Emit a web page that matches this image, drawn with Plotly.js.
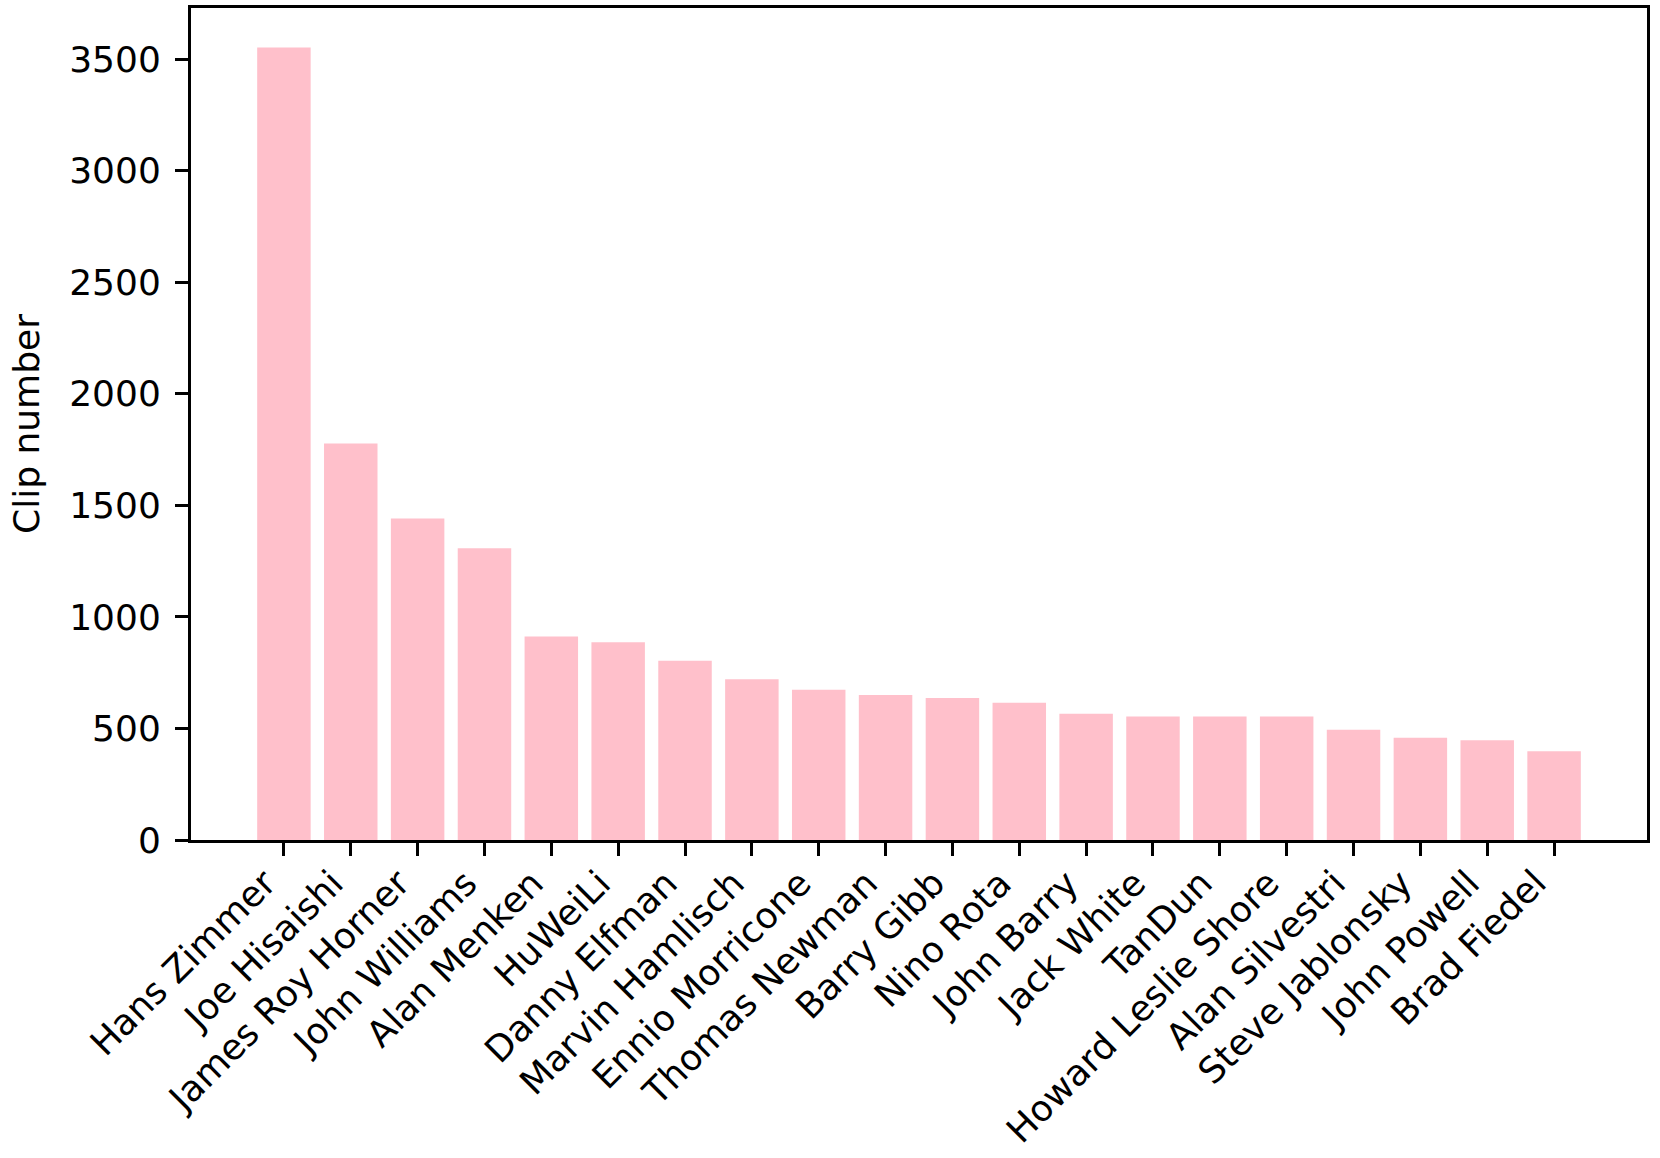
<!DOCTYPE html>
<html>
<head>
<meta charset="utf-8">
<script src="https://cdn.plot.ly/plotly-3.0.1.min.js"></script>
<style>
html,body{margin:0;padding:0;background:#fff;}
#chart{width:1660px;height:1158px;}
</style>
</head>
<body>
<div id="chart"></div>
<script>
const composers = ["Hans Zimmer","Joe Hisaishi","James Roy Horner","John Williams","Alan Menken","HuWeiLi","Danny Elfman","Marvin Hamlisch","Ennio Morricone","Thomas Newman","Barry Gibb","Nino Rota","John Barry","Jack White","TanDun","Howard Leslie Shore","Alan Silvestri","Steve Jablonsky","John Powell","Brad Fiedel"];
const clipCounts = [3552,1777,1441,1308,912,887,803,721,673,650,636,615,566,554,554,554,494,458,447,398];
const yTickValues = [0,500,1000,1500,2000,2500,3000,3500];
const yLabel = "Clip number";

const n = composers.length;
const yMax = Math.max(...clipCounts) * 1.05;
const xPad = (n - 1 + 0.8) * 0.05 + 0.4;

const trace = {
  type: 'bar',
  x: composers,
  y: clipCounts,
  marker: {color: '#FFC0CB', line: {width: 0}},
  hoverinfo: 'x+y'
};

const font = {family: 'DejaVu Sans, sans-serif', size: 36, color: '#000'};

// category labels, rotated 45° and right/top aligned under each tick (matplotlib style)
const labelAnnotations = composers.map(name => ({
  x: name, xref: 'x',
  y: 0, yref: 'paper',
  text: name,
  textangle: -45,
  xanchor: 'right',
  yanchor: 'top',
  yshift: -22,
  showarrow: false,
  borderpad: 0,
  borderwidth: 0,
  font: font
}));

const layout = {
  width: 1660,
  height: 1158,
  margin: {l: 191, r: 13, t: 8, b: 318, pad: 0},
  paper_bgcolor: '#fff',
  plot_bgcolor: '#fff',
  bargap: 0.2,
  showlegend: false,
  font: font,
  annotations: labelAnnotations,
  xaxis: {
    type: 'category',
    range: [-xPad, n - 1 + xPad],
    showticklabels: false,
    ticks: 'outside',
    ticklen: 13,
    tickwidth: 3,
    tickcolor: '#000',
    showline: true,
    linewidth: 3,
    linecolor: '#000',
    mirror: true,
    showgrid: false,
    zeroline: false
  },
  yaxis: {
    range: [0, yMax],
    tickmode: 'array',
    tickvals: yTickValues,
    ticktext: yTickValues.map(String),
    ticks: 'outside',
    ticklen: 13,
    tickwidth: 3,
    tickcolor: '#000',
    showline: true,
    linewidth: 3,
    linecolor: '#000',
    mirror: true,
    showgrid: false,
    zeroline: false,
    tickfont: font,
    ticklabelstandoff: 7,
    title: {text: yLabel, font: font, standoff: 19}
  }
};

Plotly.newPlot('chart', [trace], layout, {staticPlot: true, displayModeBar: false});
</script>
</body>
</html>
